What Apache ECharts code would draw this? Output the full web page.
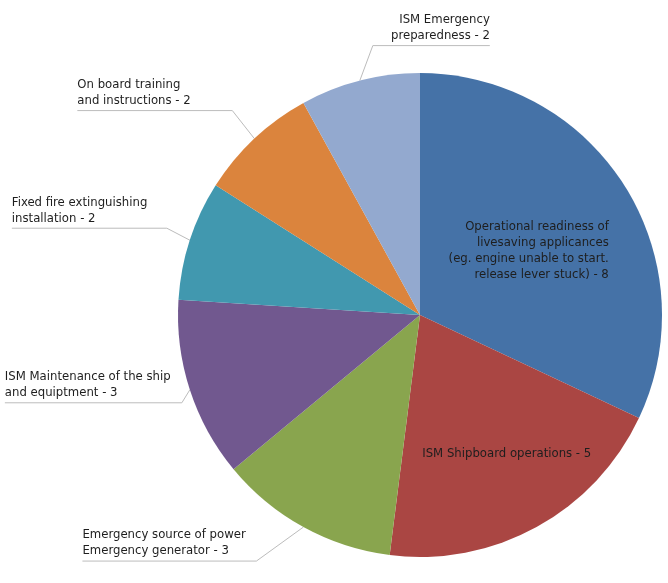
<!DOCTYPE html>
<html><head><meta charset="utf-8">
<script src="https://cdn.jsdelivr.net/npm/echarts@6/dist/echarts.min.js"></script>
<style>html,body{margin:0;padding:0;background:#fff}#c{width:668px;height:583px}</style>
</head><body><div id="c"></div>
<script>
// ---- data ----
const categories = [
  'Operational readiness of\nlivesaving applicances\n(eg. engine unable to start.\nrelease lever stuck)',
  'ISM Shipboard operations',
  'Emergency source of power\nEmergency generator',
  'ISM Maintenance of the ship\nand equiptment',
  'Fixed fire extinguishing\ninstallation',
  'On board training\nand instructions',
  'ISM Emergency\npreparedness'
];
const values = [8, 5, 3, 3, 2, 2, 2];

// ---- styles ----
const colors = ['#4572A7', '#AA4643', '#89A54E', '#71588F', '#4198AF', '#DB843D', '#93A9CF'];
const FONT = "'Liberation Sans Narrow', 'Arial Narrow', 'DejaVu Sans Condensed', 'Roboto Condensed', sans-serif";
const FS = 13, LH = 16;
// label placement: inside labels get a small shift, outside labels get an elbow offset (from the slice edge) and an underline length
const labelPlace = [
  { inside: true, dx: 4, dy: 2 },
  { inside: true, dx: 27, dy: 30 },
  { ex: -47, ey: 34, len: 174, side: -1 },
  { ex: -8, ey: 13, len: 177, side: -1 },
  { ex: -23, ey: -12, len: 155, side: -1 },
  { ex: -22, ey: -28, len: 155, side: -1 },
  { ex: 13, ey: -35, len: 117, side: 1 }
];
const CX = 420, CY = 315, R = 242;

const chart = echarts.init(document.getElementById('c'), null, { renderer: 'canvas' });
const total = values.reduce((a, b) => a + b, 0);

function edgePoint(i) {
  let cum = 0;
  for (let k = 0; k < i; k++) cum += values[k];
  const a = (cum + values[i] / 2) / total * Math.PI * 2;
  return [CX + R * Math.sin(a), CY - R * Math.cos(a)];
}

const data = categories.map((name, i) => {
  const item = { name: name, value: values[i], itemStyle: { color: colors[i] } };
  if (labelPlace[i].inside) {
    item.label = { position: 'inside' };
    item.labelLine = { show: false };
  } else {
    item.label = { position: 'outside', width: 220, align: labelPlace[i].side < 0 ? 'left' : 'right' };
  }
  return item;
});

chart.setOption({
  animation: false,
  backgroundColor: '#fff',
  series: [{
    type: 'pie',
    center: [CX, CY],
    radius: R,
    startAngle: 90,
    clockwise: true,
    avoidLabelOverlap: false,
    data: data,
    label: {
      color: '#1e1e1e',
      fontFamily: FONT,
      fontSize: FS,
      lineHeight: LH,
      formatter: function (p) {
        const lines = (p.name + ' - ' + p.value).split('\n');
        if (p.dataIndex === 0) return lines.map(l => '{r|' + l + '}').join('\n');
        return lines.join('\n');
      },
      rich: {
        r: { align: 'right', color: '#1e1e1e', fontFamily: FONT, fontSize: FS, lineHeight: LH }
      }
    },
    labelLine: {
      show: true,
      length: 10,
      length2: 5,
      lineStyle: { color: '#bcbcbc', width: 1 }
    },
    emphasis: { disabled: true },
    labelLayout: function (p) {
      const s = labelPlace[p.dataIndex];
      if (s.inside) return { dx: s.dx, dy: s.dy };
      const pts = p.labelLinePoints;
      const edge = pts && pts[0] ? [pts[0][0], pts[0][1]] : edgePoint(p.dataIndex);
      const elbow = [edge[0] + s.ex, edge[1] + s.ey];
      const end = [elbow[0] + s.side * s.len, elbow[1]];
      return {
        x: end[0],
        y: elbow[1] - 2,
        align: s.side < 0 ? 'left' : 'right',
        verticalAlign: 'bottom',
        labelLinePoints: [edge, elbow, end]
      };
    }
  }]
});
</script>
</body></html>
